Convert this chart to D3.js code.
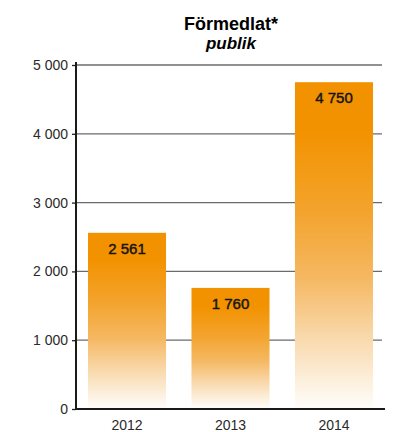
<!DOCTYPE html>
<html lang="sv">
<head>
    <meta charset="UTF-8">
    <title>Förmedlat publik</title>
    <script src="https://d3js.org/d3.v7.min.js"></script>
    <style>
        body {
            margin: 0;
            background: #fff;
            font-family: "Liberation Sans", Arial, sans-serif;
        }
        .grid line {
            stroke: #6b6b6b;
            stroke-width: 1.3;
        }
        .tick-label {
            font-size: 14px;
            fill: #2a2a2a;
        }
        .bar-label {
            font-size: 15px;
            fill: #151515;
            stroke: #151515;
            stroke-width: 0.45;
        }
    </style>
</head>
<body>
    <svg id="chart" width="404" height="432"></svg>
    <script>
        // Data
        const years = ["2012", "2013", "2014"];
        const values = [2561, 1760, 4750];
        const valueLabels = ["2 561", "1 760", "4 750"];
        const yTicks = [0, 1000, 2000, 3000, 4000, 5000];
        const yTickLabels = ["0", "1 000", "2 000", "3 000", "4 000", "5 000"];

        const svg = d3.select("#chart");
        const plotLeft = 76, plotRight = 384, plotTop = 65, plotBottom = 409;

        const x = d3.scaleBand()
            .domain(years)
            .range([88, 373])
            .paddingInner(0.246)
            .paddingOuter(0);

        const y = d3.scaleLinear()
            .domain([0, 5000])
            .range([plotBottom, plotTop]);

        // gradient per bar (solid top, fading to white)
        const grad = svg.append("defs")
            .append("linearGradient")
            .attr("id", "barFill")
            .attr("x1", 0).attr("y1", 0)
            .attr("x2", 0).attr("y2", 1);
        [[0, "#f39200"], [0.15, "#f39200"], [0.4, "#f3a42e"], [0.6, "#f5b862"],
         [0.8, "#f9dcb3"], [1, "#fffefc"]].forEach(s => {
            grad.append("stop").attr("offset", s[0]).attr("stop-color", s[1]);
        });

        // Title
        svg.append("text")
            .attr("x", 231).attr("y", 30)
            .attr("text-anchor", "middle")
            .style("font-size", "18px")
            .style("font-weight", "bold")
            .text("Förmedlat*");
        svg.append("text")
            .attr("x", 231).attr("y", 49)
            .attr("text-anchor", "middle")
            .style("font-size", "17px")
            .style("font-weight", "bold")
            .style("font-style", "italic")
            .text("publik");

        // gridlines
        svg.append("g")
            .attr("class", "grid")
            .selectAll("line")
            .data(yTicks.filter(d => d > 0))
            .enter()
            .append("line")
            .attr("x1", plotLeft)
            .attr("x2", plotRight - 2)
            .attr("y1", d => y(d))
            .attr("y2", d => y(d));

        // bars
        svg.selectAll(".bar")
            .data(values)
            .enter()
            .append("rect")
            .attr("class", "bar")
            .attr("x", (d, i) => x(years[i]))
            .attr("y", d => y(d))
            .attr("width", x.bandwidth())
            .attr("height", d => plotBottom - y(d))
            .attr("fill", "url(#barFill)");

        svg.selectAll(".bar-label")
            .data(values)
            .enter()
            .append("text")
            .attr("class", "bar-label")
            .attr("x", (d, i) => x(years[i]) + x.bandwidth() / 2)
            .attr("y", d => y(d) + 21)
            .attr("text-anchor", "middle")
            .text((d, i) => valueLabels[i]);

        // y axis
        const yAxis = d3.axisLeft(y)
            .tickValues(yTicks)
            .tickFormat((d, i) => yTickLabels[i])
            .tickSize(4)
            .tickPadding(4);
        const ya = svg.append("g")
            .attr("transform", `translate(${plotLeft},0)`)
            .call(yAxis);
        ya.select(".domain").remove();
        ya.selectAll(".tick line").attr("stroke", "#222").attr("stroke-width", 1.3);
        ya.selectAll(".tick text")
            .attr("class", "tick-label")
            .style("font-family", "'Liberation Sans', Arial, sans-serif")
            .style("font-size", "14px")
            .attr("fill", "#2a2a2a");

        svg.append("line")
            .attr("x1", plotLeft).attr("x2", plotLeft)
            .attr("y1", plotTop - 3).attr("y2", plotBottom + 1)
            .attr("stroke", "#1a1a1a")
            .attr("stroke-width", 2);

        // x axis
        svg.append("line")
            .attr("x1", plotLeft - 1).attr("x2", plotRight + 1)
            .attr("y1", plotBottom).attr("y2", plotBottom)
            .attr("stroke", "#1a1a1a")
            .attr("stroke-width", 2);

        svg.selectAll(".x-label")
            .data(years)
            .enter()
            .append("text")
            .attr("class", "tick-label")
            .attr("x", d => x(d) + x.bandwidth() / 2)
            .attr("y", 430)
            .attr("text-anchor", "middle")
            .text(d => d);
    </script>
</body>
</html>
